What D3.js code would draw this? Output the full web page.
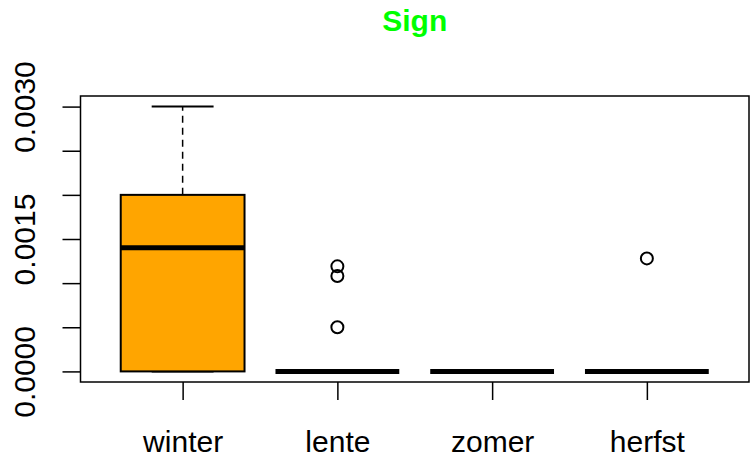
<!DOCTYPE html>
<html>
<head>
<meta charset="utf-8">
<script src="https://cdn.jsdelivr.net/npm/d3@7"></script>
<style>
  html, body { margin: 0; padding: 0; background: #fff; }
  svg { display: block; font-family: "Liberation Sans", Arial, sans-serif; }
</style>
</head>
<body>
<svg id="chart" width="750" height="459"></svg>
<script>
const categories = ["winter", "lente", "zomer", "herfst"];
const whiskerLow = [0, 0, 0, 0];
const q1 = [0, 0, 0, 0];
const medians = [0.0014, 0, 0, 0];
const q3 = [0.002, 0, 0, 0];
const whiskerHigh = [0.003, 0, 0, 0];
const outliers = [[], [0.00119, 0.00108, 0.0005], [], [0.00128]];
const yTicks = [0, 0.0005, 0.001, 0.0015, 0.002, 0.0025, 0.003];
const yLabels = ["0.0000", "", "", "0.0015", "", "", "0.0030"];
const title = "Sign";

const svg = d3.select("#chart");
const pLeft = 80.5, pRight = 749, pTop = 96, pBottom = 382;

// R style: xlim 0.5..4.5 extended by 4%
const x = d3.scaleLinear().domain([0.34, 4.66]).range([pLeft, pRight]);
const y = d3.scaleLinear().domain([-0.00012, 0.00312]).range([pBottom, pTop]);
const unit = x(2) - x(1);
const boxW = 0.8 * unit;

// title
svg.append("text")
  .attr("x", (pLeft + pRight) / 2).attr("y", 31)
  .attr("text-anchor", "middle")
  .attr("font-weight", "bold").attr("font-size", 30)
  .attr("fill", "#00FF00").text(title);

const g = svg.append("g");

categories.forEach((c, i) => {
  const cx = x(i + 1);
  // whiskers
  g.append("line").attr("x1", cx).attr("x2", cx)
    .attr("y1", y(q3[i])).attr("y2", y(whiskerHigh[i]))
    .attr("stroke", "#000").attr("stroke-width", 1.5).attr("stroke-dasharray", "7,5");
  g.append("line").attr("x1", cx).attr("x2", cx)
    .attr("y1", y(q1[i])).attr("y2", y(whiskerLow[i]))
    .attr("stroke", "#000").attr("stroke-width", 1.5).attr("stroke-dasharray", "7,5");
  // staples
  [whiskerHigh[i], whiskerLow[i]].forEach(v => {
    g.append("line").attr("x1", cx - boxW / 4).attr("x2", cx + boxW / 4)
      .attr("y1", y(v)).attr("y2", y(v))
      .attr("stroke", "#000").attr("stroke-width", 2);
  });
  // box
  g.append("rect")
    .attr("x", cx - boxW / 2).attr("width", boxW)
    .attr("y", y(q3[i])).attr("height", y(q1[i]) - y(q3[i]))
    .attr("fill", "#FFA500").attr("stroke", "#000").attr("stroke-width", 2);
  // median
  g.append("line").attr("x1", cx - boxW / 2).attr("x2", cx + boxW / 2)
    .attr("y1", y(medians[i])).attr("y2", y(medians[i]))
    .attr("stroke", "#000").attr("stroke-width", 5);
  // outliers
  outliers[i].forEach(v => {
    g.append("circle").attr("cx", cx).attr("cy", y(v)).attr("r", 6)
      .attr("fill", "none").attr("stroke", "#000").attr("stroke-width", 2);
  });
});

// frame
svg.append("rect").attr("x", pLeft).attr("y", pTop)
  .attr("width", pRight - pLeft).attr("height", pBottom - pTop)
  .attr("fill", "none").attr("stroke", "#000").attr("stroke-width", 1.5);

// y axis
const yAxis = d3.axisLeft(y).tickValues(yTicks).tickSize(18)
  .tickFormat((d, i) => yLabels[i]);
const ya = svg.append("g").attr("transform", `translate(${pLeft},0)`).call(yAxis);
ya.select(".domain").remove();
ya.selectAll(".tick line").attr("stroke", "#000").attr("stroke-width", 1.5);
ya.selectAll(".tick text")
  .attr("font-size", 30).attr("fill", "#000")
  .attr("font-family", "Liberation Sans, Arial, sans-serif")
  .attr("transform", "rotate(-90)")
  .attr("x", 0).attr("y", -46).attr("dy", 0)
  .attr("text-anchor", "middle");

// x axis
const xa = svg.append("g").attr("transform", `translate(0,${pBottom})`)
  .call(d3.axisBottom(x).tickValues([1, 2, 3, 4]).tickSize(18)
    .tickFormat((d, i) => categories[i]));
xa.select(".domain").remove();
xa.selectAll(".tick line").attr("stroke", "#000").attr("stroke-width", 1.5);
xa.selectAll(".tick text")
  .attr("font-size", 30).attr("fill", "#000")
  .attr("font-family", "Liberation Sans, Arial, sans-serif")
  .attr("y", 70).attr("dy", 0);
</script>
</body>
</html>
